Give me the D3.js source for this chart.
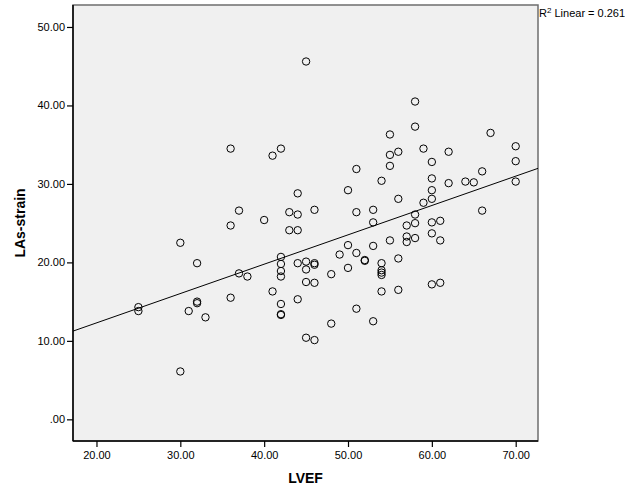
<!DOCTYPE html>
<html>
<head>
<meta charset="utf-8">
<script src="https://cdn.jsdelivr.net/npm/d3@7"></script>
<style>
  body { margin: 0; background: #fff; }
  svg { display: block; font-family: "Liberation Sans", Arial, sans-serif; }
</style>
</head>
<body>
<svg></svg>
<script>
var screen = {width: 625, height: 500};
var margins = {top: 5, right: 87, bottom: 59, left: 73};

// LVEF (x) and LAs-strain (y)
var lvef = [25, 25, 30, 30, 31, 32, 32, 32, 33, 36, 36, 36, 37, 37, 38, 40, 41, 41,
    42, 42, 42, 42, 42, 42, 42, 42, 43, 43, 44, 44, 44, 44, 44,
    45, 45, 45, 45, 45, 46, 46, 46, 46, 46, 48, 48, 49, 50, 50, 50,
    51, 51, 51, 51, 52, 52, 53, 53, 53, 53, 54, 54, 54, 54, 54, 54,
    55, 55, 55, 55, 56, 56, 56, 56, 57, 57, 57, 58, 58, 58, 58, 58, 59, 59,
    60, 60, 60, 60, 60, 60, 60, 61, 61, 61, 62, 62, 64, 65, 66, 66, 67, 70, 70, 70];
var strain = [14.3, 13.8, 22.5, 6.1, 13.8, 19.9, 15.0, 14.8, 13.0, 34.5, 24.7, 15.5, 26.6, 18.6, 18.2, 25.4, 33.6, 16.3,
    34.5, 20.7, 19.8, 18.9, 18.2, 14.7, 13.3, 13.4, 26.4, 24.1, 28.8, 26.1, 24.1, 19.9, 15.3,
    45.6, 20.1, 19.1, 17.5, 10.4, 26.7, 19.9, 19.7, 17.4, 10.1, 18.5, 12.2, 21.0, 29.2, 22.2, 19.3,
    31.9, 26.4, 21.2, 14.1, 20.2, 20.3, 26.7, 25.1, 22.1, 12.5, 30.4, 19.9, 19.0, 18.7, 18.4, 16.3,
    36.3, 33.7, 32.3, 22.8, 34.1, 28.1, 20.5, 16.5, 24.7, 23.3, 22.6, 40.5, 37.3, 26.1, 25.0, 23.1, 34.5, 27.6,
    32.8, 30.7, 29.2, 28.1, 25.1, 23.7, 17.2, 25.3, 22.8, 17.4, 34.1, 30.1, 30.3, 30.2, 31.6, 26.6, 36.5, 34.8, 32.9, 30.3];

var xTicks = [20, 30, 40, 50, 60, 70];
var yTicks = [0, 10, 20, 30, 40, 50];

// fit line as drawn in the picture
var fitIntercept = 4.81;
var fitSlope = 0.374;
var fitLabel = "0.261";

var width = screen.width - margins.left - margins.right;
var height = screen.height - margins.top - margins.bottom;

var svg = d3.select("svg")
    .attr("width", screen.width)
    .attr("height", screen.height);

var xScale = d3.scaleLinear()
    .domain([17.2, 72.66])
    .range([0, width]);

var yScale = d3.scaleLinear()
    .domain([-2.76, 52.8])
    .range([height, 0]);

var fmt = function(d) {
    var s = d3.format(".2f")(d);
    return s.indexOf("0.") == 0 ? s.slice(1) : s;
};

var graph = svg.append("g")
    .attr("id", "graph")
    .attr("transform", "translate(" + margins.left + "," + margins.top + ")");

graph.append("clipPath")
    .attr("id", "clip")
    .append("rect")
    .attr("width", width)
    .attr("height", height);

graph.append("rect")
    .attr("width", width)
    .attr("height", height)
    .attr("fill", "#f0f0f0")
    .attr("stroke", "#6e6e6e")
    .attr("stroke-width", 1.5);

// regression line
graph.append("line")
    .attr("clip-path", "url(#clip)")
    .attr("x1", xScale(xScale.domain()[0]))
    .attr("y1", yScale(fitIntercept + fitSlope * xScale.domain()[0]))
    .attr("x2", xScale(xScale.domain()[1]))
    .attr("y2", yScale(fitIntercept + fitSlope * xScale.domain()[1]))
    .attr("stroke", "#000")
    .attr("stroke-width", 1);

graph.selectAll("circle")
    .data(lvef)
    .enter()
    .append("circle")
    .attr("cx", function(d) { return xScale(d); })
    .attr("cy", function(d, i) { return yScale(strain[i]); })
    .attr("r", 3.7)
    .attr("fill", "none")
    .attr("stroke", "#000")
    .attr("stroke-width", 1);

var xAxis = d3.axisBottom(xScale)
    .tickValues(xTicks)
    .tickFormat(fmt)
    .tickSizeInner(6)
    .tickSizeOuter(0)
    .tickPadding(4);

var yAxis = d3.axisLeft(yScale)
    .tickValues(yTicks)
    .tickFormat(fmt)
    .tickSizeInner(6)
    .tickSizeOuter(0)
    .tickPadding(2);

graph.append("g")
    .attr("id", "xAxis")
    .attr("transform", "translate(0," + height + ")")
    .call(xAxis);

graph.append("g")
    .attr("id", "yAxis")
    .call(yAxis);

graph.selectAll(".domain").remove();
graph.selectAll(".tick line").attr("stroke", "#000").attr("stroke-width", 1.2);
graph.selectAll(".tick text")
    .attr("fill", "#000")
    .style("font-size", "11px")
    .style("font-family", "Liberation Sans, Arial, sans-serif");

// left and bottom axis lines
graph.append("line")
    .attr("x1", 0).attr("y1", 0)
    .attr("x2", 0).attr("y2", height)
    .attr("stroke", "#000").attr("stroke-width", 1.5);
graph.append("line")
    .attr("x1", 0).attr("y1", height)
    .attr("x2", width).attr("y2", height)
    .attr("stroke", "#000").attr("stroke-width", 1.5);

// axis titles
svg.append("text")
    .attr("x", margins.left + width / 2)
    .attr("y", 483)
    .attr("text-anchor", "middle")
    .style("font-size", "14px")
    .style("font-weight", "bold")
    .text("LVEF");

svg.append("text")
    .attr("transform", "translate(25," + (margins.top + height / 2) + ") rotate(-90)")
    .attr("text-anchor", "middle")
    .style("font-size", "14px")
    .style("font-weight", "bold")
    .text("LAs-strain");

var r2 = svg.append("text")
    .attr("x", margins.left + width + 1)
    .attr("y", 17)
    .style("font-size", "11px");
r2.append("tspan").text("R");
r2.append("tspan").attr("dy", -4).style("font-size", "8px").text("2");
r2.append("tspan").attr("dy", 4).text(" Linear = " + fitLabel);
</script>
</body>
</html>
